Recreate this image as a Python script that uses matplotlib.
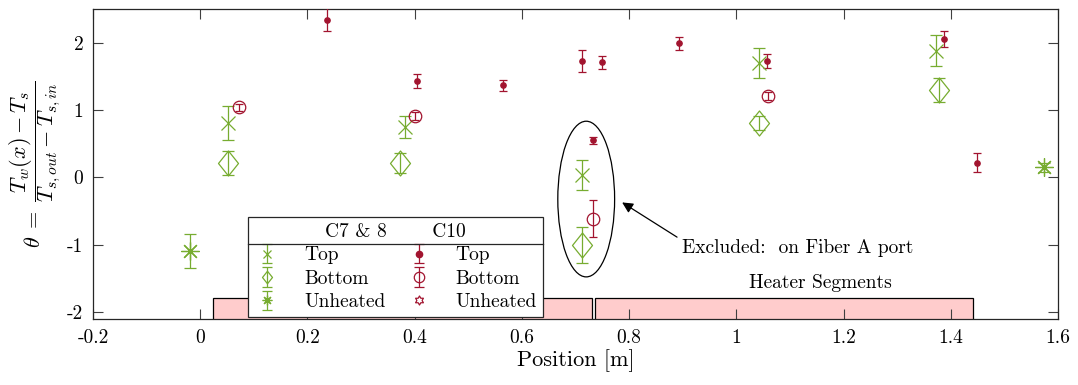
import numpy as np
import matplotlib
matplotlib.use("Agg")
import matplotlib.pyplot as plt
from matplotlib.patches import Ellipse
from matplotlib.path import Path
from matplotlib.ticker import FuncFormatter

plt.rcParams['font.family'] = ['cmr10', 'DejaVu Serif']
plt.rcParams['mathtext.fontset'] = 'cm'
plt.rcParams['axes.unicode_minus'] = False
plt.rcParams['axes.formatter.use_mathtext'] = False

# C7 & 8 (green)
g_top_x = [0.052, 0.382, 0.712, 1.043, 1.373]
g_top_y = [0.81, 0.75, 0.04, 1.70, 1.88]
g_top_e = [0.25, 0.16, 0.22, 0.22, 0.23]

g_bot_x = [0.052, 0.373, 0.712, 1.043, 1.378]
g_bot_y = [0.21, 0.22, -1.00, 0.81, 1.30]
g_bot_e = [0.18, 0.15, 0.27, 0.10, 0.18]

g_unh_x = [-0.019, 1.574]
g_unh_y = [-1.09, 0.15]
g_unh_e = [0.25, 0.07]

# C10 (red)
r_top_x = [0.237, 0.404, 0.565, 0.712, 0.733, 0.749, 0.893, 1.057, 1.388, 1.449]
r_top_y = [2.34, 1.43, 1.37, 1.73, 0.55, 1.71, 1.99, 1.73, 2.06, 0.22]
r_top_e = [0.17, 0.10, 0.08, 0.16, 0.05, 0.10, 0.10, 0.10, 0.12, 0.14]

r_bot_x = [0.073, 0.400, 0.733, 1.060]
r_bot_y = [1.04, 0.91, -0.61, 1.21]
r_bot_e = [0.05, 0.06, 0.28, 0.06]

r_unh_x = []
r_unh_y = []

# heater segments
heat_start = [0.024, 0.737]
heat_end = [0.731, 1.442]
heat_top = -1.79

legend_labels = ['Top', 'Bottom', 'Unheated', 'Top', 'Bottom', 'Unheated']

green = '#77AC30'
red = '#A2142F'

# marker shapes
diamond = Path([(0, 1), (0.8, 0), (0, -1), (-0.8, 0), (0, 1)], closed=True)
ang_out = np.deg2rad(90 + 60 * np.arange(6))
ang_in = ang_out + np.deg2rad(30)
hv = []
for a, b in zip(ang_out, ang_in):
    hv.append((np.cos(a), np.sin(a)))
    hv.append((np.cos(b) / np.sqrt(3), np.sin(b) / np.sqrt(3)))
hv.append(hv[0])
hexagram = Path(hv, closed=True)

fig = plt.figure(figsize=(10.78, 3.85), dpi=100)
ax = fig.add_axes([0.0863, 0.1714, 0.8951, 0.8052])

ax.bar(heat_start, heat_top + 2.3, width=np.array(heat_end) - np.array(heat_start),
       bottom=-2.3, align='edge', color='#FFCCCC', edgecolor='black', linewidth=0.9, zorder=1)
ax.text(1.156, -1.57, 'Heater Segments', ha='center', va='center', fontsize=14)

kw = dict(ls='none', elinewidth=0.9, capthick=0.9, zorder=3)
ax.errorbar(g_top_x, g_top_y, yerr=g_top_e, marker='x', ms=9.4, mew=0.9,
            color=green, capsize=4, **kw)
ax.errorbar(g_bot_x, g_bot_y, yerr=g_bot_e, marker=diamond, ms=18, mew=0.9,
            mfc='none', color=green, capsize=4, **kw)
ax.errorbar(g_unh_x, g_unh_y, yerr=g_unh_e, marker=(8, 2, 0), ms=13, mew=0.9,
            color=green, capsize=4, **kw)
ax.errorbar(r_top_x, r_top_y, yerr=r_top_e, marker='o', ms=3.8,
            color=red, capsize=3.2, **kw)
ax.errorbar(r_bot_x, r_bot_y, yerr=r_bot_e, marker='o', ms=9, mew=0.9,
            mfc='none', color=red, capsize=3.2, **kw)
ax.plot(r_unh_x, r_unh_y, ls='none', marker=hexagram, ms=9, mew=0.9,
        mfc='none', color=red)

# small legend proxies (legend symbols are drawn smaller than the plot markers)
nan = [np.nan]
p1 = ax.errorbar(nan, nan, yerr=[1], marker='x', ms=5.5, mew=0.9, color=green, capsize=3.5, **kw)
p2 = ax.errorbar(nan, nan, yerr=[1], marker=diamond, ms=9, mew=0.9, mfc='none',
                 color=green, capsize=3.5, **kw)
p3 = ax.errorbar(nan, nan, yerr=[1], marker=(8, 2, 0), ms=7, mew=0.9, color=green, capsize=3.5, **kw)
p4 = ax.errorbar(nan, nan, yerr=[1], marker='o', ms=4.5, color=red, capsize=3.5, **kw)
p5 = ax.errorbar(nan, nan, yerr=[1], marker='o', ms=7.5, mew=0.9, mfc='none',
                 color=red, capsize=3.5, **kw)
p6, = ax.plot(nan, nan, ls='none', marker=hexagram, ms=6.5, mew=0.9, mfc='none', color=red)

ell = Ellipse((0.72, -0.32), 0.106, 2.31, fill=False, ec='black', lw=0.9, zorder=4)
ax.add_patch(ell)
ax.annotate('Excluded:  on Fiber A port', xy=(0.787, -0.37), xytext=(0.899, -1.04),
            ha='left', va='center', fontsize=14,
            arrowprops=dict(arrowstyle='-|>', color='black', lw=0.9,
                            mutation_scale=16, relpos=(0, 0.9), shrinkA=2, shrinkB=0))

leg = ax.legend([p1, p2, p3, p4, p5, p6], legend_labels,
                ncol=2, loc='lower left', bbox_to_anchor=(0.1606, 0.0065),
                borderaxespad=0,
                title='C7 & 8' + ' ' * 7 + 'C10', title_fontsize=14, fontsize=14,
                handlelength=1.4, handletextpad=1.2, columnspacing=1.0,
                labelspacing=0.28, borderpad=0.3, fancybox=False, framealpha=1,
                edgecolor='#262626')
leg.get_frame().set_linewidth(0.9)
leg.set_zorder(5)

ax.set_xlim(-0.2, 1.6)
ax.set_ylim(-2.1, 2.5)
ax.set_xticks(np.arange(-0.2, 1.61, 0.2))
ax.set_yticks([-2, -1, 0, 1, 2])
fmt = FuncFormatter(lambda v, p: '%g' % round(v, 3))
ax.xaxis.set_major_formatter(fmt)
ax.yaxis.set_major_formatter(fmt)
ax.tick_params(direction='in', length=7, width=0.8, top=True, right=True,
               labelsize=14, color='#404040', pad=7)
for s in ax.spines.values():
    s.set_linewidth(0.9)
    s.set_color('#262626')

ax.set_xlabel('Position [m]', fontsize=16, labelpad=2)
ax.set_ylabel(r'$\theta\; =\; \dfrac{T_w(x) - T_s}{T_{s,out} - T_{s,in}}$', fontsize=16, labelpad=3)

# separator line under the legend title
fig.canvas.draw()
inv = ax.transAxes.inverted()
lb = leg.get_window_extent()
tb = leg.get_title().get_window_extent()
(x0, y0), (x1, y1) = inv.transform([[lb.x0, lb.y0], [lb.x1, lb.y1]])
ysep = inv.transform([[0, tb.y0 - 3]])[0][1]
ax.plot([x0, x1], [ysep, ysep], transform=ax.transAxes, color='#262626', lw=0.9,
        zorder=6, clip_on=False)

fig.savefig('out.png', dpi=100)
